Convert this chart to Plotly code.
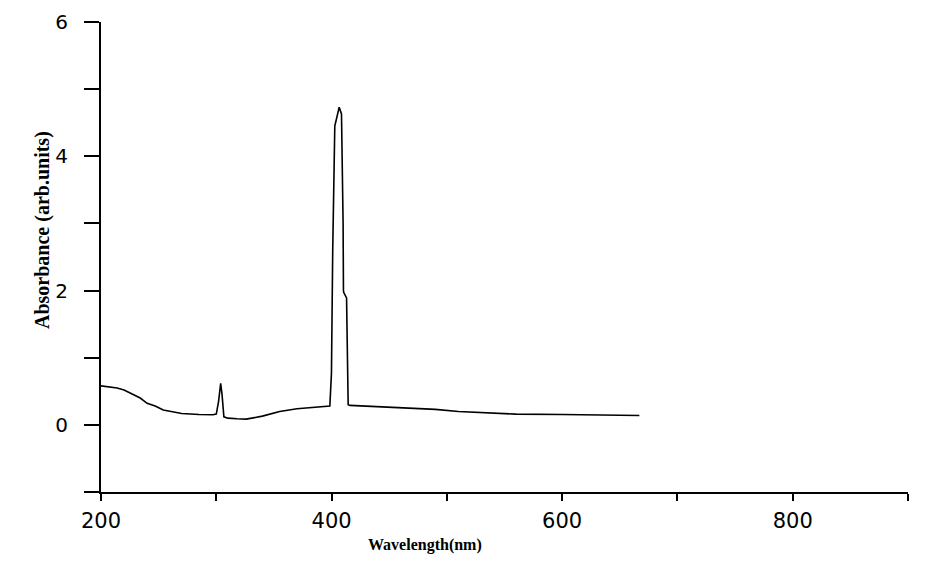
import plotly.graph_objects as go

wavelength = [200, 206, 214, 220, 228, 234, 240, 247, 254, 262, 270, 285, 297,
              300, 302, 303.8, 305, 306.6, 310, 318, 326, 340, 355, 370, 385, 396,
              398.5, 399.9, 401, 402.8, 404.5, 406.6, 408.6, 409.6, 410.0, 410.3,
              410.6, 413.0, 414.4, 416, 430, 445, 460, 475, 490, 510, 535, 560,
              600, 640, 667]
absorbance = [0.58, 0.57, 0.55, 0.52, 0.45, 0.40, 0.32, 0.28, 0.22, 0.19, 0.17,
              0.155, 0.15, 0.16, 0.35, 0.62, 0.45, 0.12, 0.10, 0.09, 0.085, 0.13,
              0.20, 0.24, 0.26, 0.27, 0.28, 0.77, 2.6, 4.45, 4.6, 4.73, 4.63, 3.8,
              3.0, 2.0, 1.97, 1.89, 0.30, 0.29, 0.28, 0.27, 0.26, 0.25, 0.23, 0.20,
              0.175, 0.16, 0.155, 0.15, 0.14]

x_ticks = [200, 400, 600, 800]
y_ticks = [0, 2, 4, 6]

# page has an 8px body margin; figure coordinates are page coordinates minus 8
OFF = 8
W, H = 935 - OFF, 569 - OFF
L, T = 101 - OFF, 22 - OFF
R, B = W - (908 - OFF), H - (492 - OFF)
pw, ph = W - L - R, H - T - B

fig = go.Figure()
fig.add_trace(go.Scatter(x=wavelength, y=absorbance, mode="lines",
                         line=dict(color="#000000", width=1.6), showlegend=False))

fig.update_layout(
    width=W, height=H,
    margin=dict(l=L, r=R, t=T, b=B, autoexpand=False),
    paper_bgcolor="white", plot_bgcolor="white",
    xaxis=dict(range=[200, 900], tickvals=x_ticks, ticktext=[str(v) for v in x_ticks],
               showgrid=False, zeroline=False, showline=True, linecolor="#000000",
               linewidth=2, ticks="outside", ticklen=7, tickwidth=2, tickcolor="#000000",
               tickfont=dict(family="DejaVu Sans", size=21, color="#000000"),
               ticklabelstandoff=2, automargin=False,
               minor=dict(tickvals=[300, 500, 700, 900], ticks="outside", ticklen=7,
                          tickwidth=2, tickcolor="#000000"),
               fixedrange=True),
    yaxis=dict(range=[-1, 6], tickvals=y_ticks, ticktext=[str(v) for v in y_ticks],
               showgrid=False, zeroline=False, showline=True, linecolor="#000000",
               linewidth=2, ticks="outside", ticklen=15, tickwidth=2, tickcolor="#000000",
               tickfont=dict(family="DejaVu Sans", size=20, color="#000000"),
               ticklabelstandoff=12, automargin=False,
               minor=dict(tickvals=[-1, 1, 3, 5], ticks="outside", ticklen=15,
                          tickwidth=2, tickcolor="#000000"),
               fixedrange=True),
    annotations=[
        dict(text="<b>Wavelength(nm)</b>", x=(425 - 101) / pw, y=1 - (545 - 22) / ph,
             xref="paper", yref="paper", xanchor="center", yanchor="middle",
             showarrow=False,
             font=dict(family="Liberation Serif", size=16, color="#000000")),
        dict(text="<b>Absorbance (arb.units)</b>", x=(42 - 101) / pw, y=1 - (230 - 22) / ph,
             xref="paper", yref="paper", xanchor="center", yanchor="middle",
             textangle=-90, showarrow=False,
             font=dict(family="Liberation Serif", size=20, color="#000000")),
    ],
)

fig.write_html("out.html")
